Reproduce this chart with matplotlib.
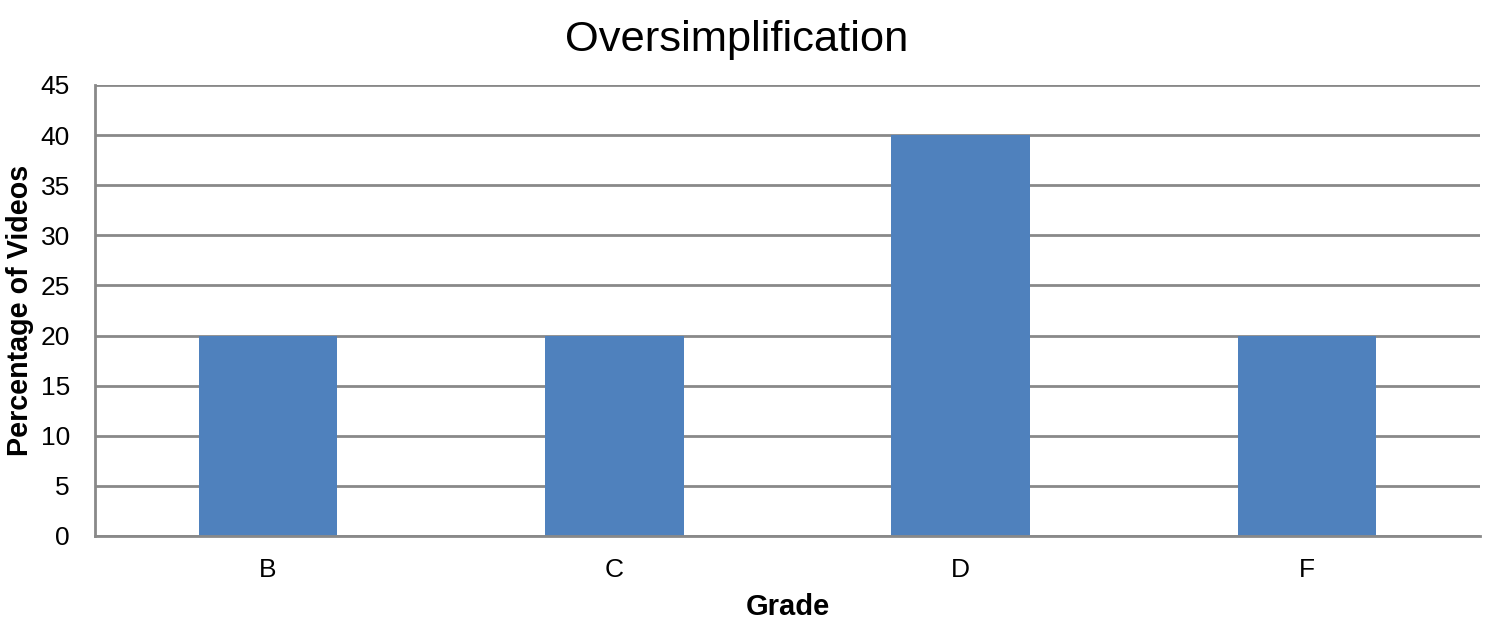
import matplotlib
matplotlib.use("Agg")
import matplotlib.pyplot as plt

grades = ["B", "C", "D", "F"]
percent = [20, 20, 40, 20]
yticks = [0, 5, 10, 15, 20, 25, 30, 35, 40, 45]

BAR = "#4F81BD"
GRID = "#898989"

plt.rcParams["font.family"] = ["Liberation Sans", "DejaVu Sans"]

fig = plt.figure(figsize=(15, 6.29), dpi=100)
ax = fig.add_axes([0.0633, 0.1479, 0.9234, 0.717])

x = list(range(len(grades)))
ax.bar(x, percent, width=0.4, color=BAR, zorder=3)
ax.set_xlim(-0.5, len(grades) - 0.5)
ax.set_ylim(0, 45)
ax.set_yticks(yticks)
ax.set_xticks(x)
ax.set_xticklabels(grades)

ax.yaxis.grid(True, color=GRID, linewidth=2, zorder=0)
for s in ["top", "right"]:
    ax.spines[s].set_visible(False)
for s in ["left", "bottom"]:
    ax.spines[s].set_color(GRID)
    ax.spines[s].set_linewidth(2)
    ax.spines[s].set_zorder(4)
ax.tick_params(length=0, labelsize=19)
ax.tick_params(axis="y", pad=18)
ax.tick_params(axis="x", pad=16)

# title sits a bit left of the plot centre, as in the original
fig.text(0.4913, 0.937, "Oversimplification", fontsize=31.3, ha="center", va="center")
ax.set_xlabel("Grade", fontsize=21, fontweight="bold", labelpad=8)
fig.text(0.0133, 0.507, "Percentage of Videos", fontsize=20.6, fontweight="bold",
         rotation=90, ha="center", va="center")

fig.savefig("out.png", dpi=100)
